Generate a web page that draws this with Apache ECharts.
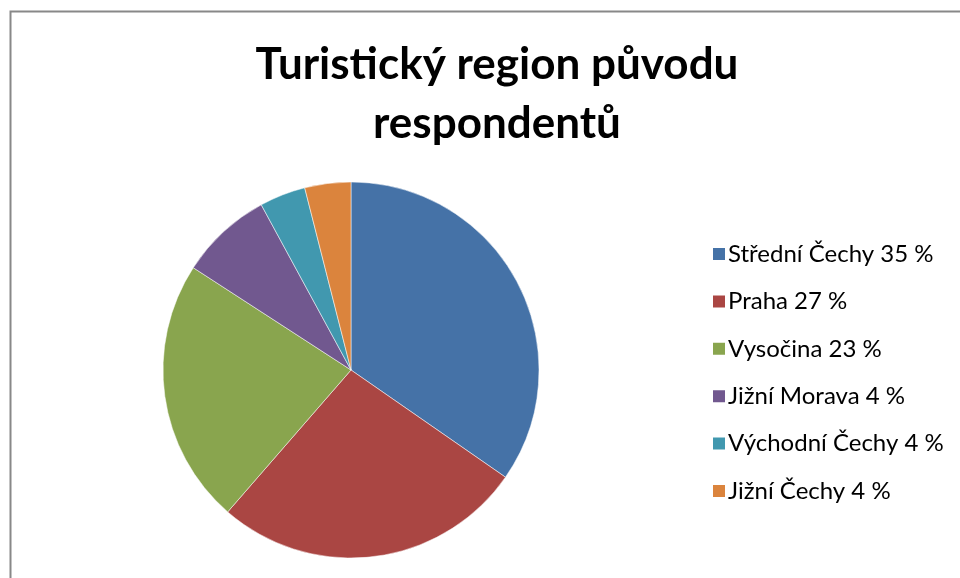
<!DOCTYPE html>
<html>
<head>
<meta charset="utf-8">
<script src="https://cdn.jsdelivr.net/npm/echarts@6/dist/echarts.min.js"></script>
<style>
  html, body { margin: 0; padding: 0; background: #fff; }
  #chart { width: 960px; height: 578px; }
</style>
</head>
<body>
<div id="chart"></div>
<script>
// regions and slice sizes
const regions = ['Střední Čechy', 'Praha', 'Vysočina', 'Jižní Morava', 'Východní Čechy', 'Jižní Čechy'];
const shares = [35, 27, 23, 8, 4, 4];
// percent text printed in the legend
const legendPct = ['35 %', '27 %', '23 %', '4 %', '4 %', '4 %'];
const colors = ['#4572A7', '#AA4643', '#89A54E', '#71588F', '#4198AF', '#DB843D'];

const chart = echarts.init(document.getElementById('chart'));

const option = {
    animation: false,
    color: colors,
    title: {
        text: 'Turistický region původu\nrespondentů',
        left: 492,
        textAlign: 'center',
        top: 30,
        textStyle: {
            fontFamily: 'Lato',
            fontWeight: 'bold',
            fontSize: 44,
            lineHeight: 59,
            color: '#000'
        }
    },
    legend: {
        orient: 'vertical',
        left: 706,
        top: 237,
        icon: 'rect',
        itemWidth: 14,
        itemHeight: 14,
        itemGap: 23.4,
        data: regions,
        formatter: function (name) {
            return name + ' ' + legendPct[regions.indexOf(name)];
        },
        textStyle: {
            fontFamily: 'Lato',
            fontSize: 24,
            lineHeight: 22,
            color: '#000',
            padding: [0, 0, 0, -3]
        }
    },
    graphic: [
        {
            type: 'rect',
            shape: { x: 10.5, y: 11.5, width: 1000, height: 1000 },
            style: { fill: 'none', stroke: '#888', lineWidth: 2 },
            silent: true
        }
    ],
    series: [
        {
            type: 'pie',
            center: [351, 370],
            radius: 188,
            startAngle: 90,
            clockwise: true,
            label: { show: false },
            labelLine: { show: false },
            itemStyle: { borderColor: '#fff', borderWidth: 0.5 },
            emphasis: { disabled: true },
            data: regions.map(function (r, i) {
                return { name: r, value: shares[i] };
            })
        }
    ]
};

chart.setOption(option);
</script>
</body>
</html>
